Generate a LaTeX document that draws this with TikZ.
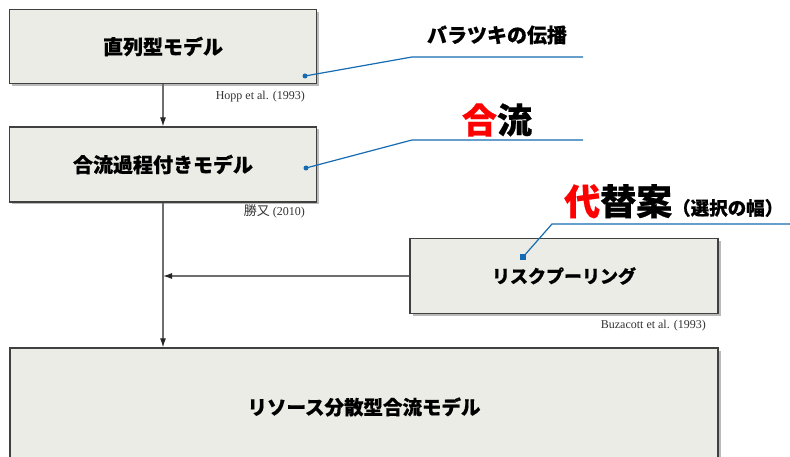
\documentclass[tikz,border=0pt]{standalone}
\usepackage{fontspec}
\setmainfont{Liberation Serif}
\newfontfamily\jp{Noto Sans CJK JP}[BoldFeatures={FakeBold=0.5}]
\usetikzlibrary{arrows.meta,shadows,calc}
\definecolor{boxfill}{RGB}{236,236,230}
\definecolor{boxline}{RGB}{64,64,64}
\definecolor{conn}{RGB}{110,110,110}
\definecolor{callblue}{RGB}{22,108,178}
\definecolor{hotred}{RGB}{255,0,0}
\tikzset{
  modelbox/.style={draw=boxline, line width=1.3pt, fill=boxfill, inner sep=0pt,
    font=\jp\bfseries\fontsize{20}{24}\selectfont,
    drop shadow={shadow xshift=2.5pt, shadow yshift=-2.5pt, opacity=0.45, fill=black!60}},
  flow/.style={draw=conn, line width=1.1pt, -{Latex[length=9pt,width=6pt,color=black!85]}},
  callout/.style={draw=callblue, line width=1.2pt},
  dotmark/.style={circle, fill=callblue, inner sep=0pt, minimum size=5pt},
  sqmark/.style={rectangle, fill=callblue, inner sep=0pt, minimum size=6pt},
  ref/.style={font=\fontsize{12}{14}\selectfont, text=black!80, inner sep=0pt},
  headtxt/.style={font=\jp\bfseries, inner sep=0pt}
}
\begin{document}
\begin{tikzpicture}[x=1pt,y=-1pt]
\clip (0,0) rectangle (790,457);
\fill[white] (0,0) rectangle (790,457);
% boxes
\node[modelbox, minimum width=307pt, minimum height=74pt] (b1) at (163,46.5) {直列型モデル};
\node[modelbox, minimum width=307pt, minimum height=75pt] (b2) at (163,164.5) {合流過程付きモデル};
\node[modelbox, minimum width=308pt, minimum height=75pt] (b3) at (564,276) {\fontsize{18}{22}\selectfont リスクプーリング};
\node[modelbox, minimum width=708pt, minimum height=118pt] (b4) at (364,407) {\fontsize{19.5}{22}\selectfont リソース分散型合流モデル};
% references
\node[ref, anchor=east] (r1) at (305,97) {Hopp et al. (1993)};
\node[ref, anchor=east] (r2) at (305,211) {{\jp\fontsize{13}{14}\selectfont 勝又} (2010)};
\node[ref, anchor=east] (r3) at (706,326) {Buzacott et al. (1993)};
% flow connectors
\coordinate (j) at (b2.south |- b3.west);
\draw[flow] (b1.south) -- (b2.north);
\draw[flow] (b2.south) -- (b2.south |- b4.north);
\draw[flow] (b3.west) -- (j);
% callouts
\node[dotmark] (d1) at (305,76) {};
\coordinate (k1) at (412,57);
\coordinate (e1) at (583,57);
\draw[callout] (d1.center) -- (k1) -- (e1);
\node[headtxt, font=\jp\bfseries\fontsize{20}{24}\selectfont] (t1) at (497,35) {バラツキの伝播};
\node[dotmark] (d2) at (306,168) {};
\coordinate (k2) at (412,140);
\coordinate (e2) at (583,140);
\draw[callout] (d2.center) -- (k2) -- (e2);
\node[headtxt, font=\jp\bfseries\fontsize{35}{40}\selectfont] (t2) at (497,120) {\textcolor{hotred}{合}流};
\node[sqmark] (d3) at (523,257) {};
\coordinate (k3) at (552,224);
\coordinate (e3) at (790,224);
\draw[callout] (d3.center) -- (k3) -- (e3);
\node[headtxt, anchor=base west, font=\jp\bfseries\fontsize{36}{40}\selectfont] (t3) at (564,215) {\textcolor{hotred}{代}替案\fontsize{18.5}{20}\selectfont（選択の幅）};
\end{tikzpicture}
\end{document}
